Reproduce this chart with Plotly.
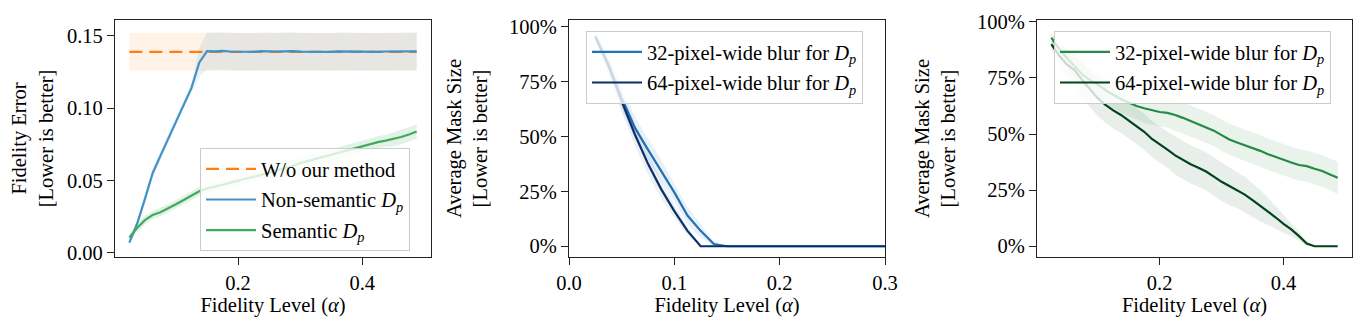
import plotly.graph_objects as go

# Fidelity level grid (shared by all three panels)
alpha = [0.025, 0.0375, 0.05, 0.0625, 0.075, 0.0875, 0.1, 0.1125, 0.125, 0.1375,
         0.15, 0.1625, 0.175, 0.1875, 0.2, 0.2125, 0.225, 0.2375, 0.25, 0.2625,
         0.275, 0.2875, 0.3, 0.3125, 0.325, 0.3375, 0.35, 0.3625, 0.375, 0.3875,
         0.4, 0.4125, 0.425, 0.4375, 0.45, 0.4625, 0.475, 0.4875]

# Panel 1: fidelity error
baseline_err = [0.139] * 38
baseline_sd = [0.013] * 38
nonsem_err = [0.007, 0.020, 0.037, 0.055, 0.067, 0.079, 0.091, 0.103, 0.114, 0.1315,
              0.1395, 0.1393, 0.1396, 0.1392, 0.1390, 0.1392, 0.1390, 0.1394, 0.1391, 0.1392,
              0.1393, 0.1395, 0.1391, 0.1390, 0.1392, 0.1391, 0.1390, 0.1393, 0.1392, 0.1390,
              0.1389, 0.1391, 0.1390, 0.1392, 0.1391, 0.1390, 0.1392, 0.1393]
nonsem_sd = [0.002, 0.002, 0.003, 0.003, 0.003, 0.003, 0.003, 0.003, 0.003, 0.010,
             0.013, 0.013, 0.013, 0.013, 0.013, 0.013, 0.013, 0.013, 0.013, 0.013,
             0.013, 0.013, 0.013, 0.013, 0.013, 0.013, 0.013, 0.013, 0.013, 0.013,
             0.013, 0.013, 0.013, 0.013, 0.013, 0.013, 0.013, 0.013]
sem_err = [0.0105, 0.017, 0.0225, 0.026, 0.028, 0.0305, 0.0335, 0.0365, 0.0395, 0.0425,
           0.0445, 0.0455, 0.047, 0.0485, 0.050, 0.051, 0.0525, 0.0538, 0.0553, 0.057,
           0.0585, 0.060, 0.062, 0.0635, 0.065, 0.0662, 0.0676, 0.069, 0.071, 0.0725,
           0.0737, 0.075, 0.0765, 0.0775, 0.0785, 0.080, 0.0818, 0.0838]
sem_sd = [0.002, 0.003, 0.003, 0.003, 0.003, 0.003, 0.003, 0.003, 0.003, 0.003,
          0.003, 0.003, 0.003, 0.003, 0.003, 0.003, 0.003, 0.003, 0.003, 0.004,
          0.004, 0.004, 0.004, 0.004, 0.004, 0.004, 0.004, 0.004, 0.004, 0.004,
          0.004, 0.004, 0.004, 0.004, 0.005, 0.005, 0.005, 0.005]

# Panel 2: mask size, non-semantic D_p
blue32 = [0.955, 0.83, 0.675, 0.54, 0.44, 0.345, 0.245, 0.14, 0.07, 0.01,
          0, 0, 0, 0, 0, 0, 0, 0, 0, 0, 0, 0, 0, 0, 0, 0, 0, 0, 0, 0,
          0, 0, 0, 0, 0, 0, 0, 0]
blue32_sd = [0.02, 0.04, 0.05, 0.05, 0.05, 0.05, 0.04, 0.04, 0.03, 0.01,
             0, 0, 0, 0, 0, 0, 0, 0, 0, 0, 0, 0, 0, 0, 0, 0, 0, 0, 0, 0,
             0, 0, 0, 0, 0, 0, 0, 0]
blue64 = [0.955, 0.82, 0.66, 0.51, 0.375, 0.26, 0.16, 0.07, 0.0, 0.0,
          0, 0, 0, 0, 0, 0, 0, 0, 0, 0, 0, 0, 0, 0, 0, 0, 0, 0, 0, 0,
          0, 0, 0, 0, 0, 0, 0, 0]
blue64_sd = [0.02, 0.04, 0.05, 0.05, 0.05, 0.04, 0.03, 0.02, 0.0, 0.0,
             0, 0, 0, 0, 0, 0, 0, 0, 0, 0, 0, 0, 0, 0, 0, 0, 0, 0, 0, 0,
             0, 0, 0, 0, 0, 0, 0, 0]

# Panel 3: mask size, semantic D_p
green32 = [0.93, 0.88, 0.84, 0.80, 0.765, 0.74, 0.72, 0.695, 0.675, 0.655,
           0.64, 0.625, 0.615, 0.605, 0.598, 0.594, 0.585, 0.572, 0.558, 0.545,
           0.53, 0.515, 0.495, 0.476, 0.462, 0.45, 0.437, 0.425, 0.41, 0.397,
           0.385, 0.373, 0.362, 0.357, 0.345, 0.335, 0.32, 0.305]
green32_sd = [0.02, 0.03, 0.04, 0.05, 0.05, 0.05, 0.055, 0.055, 0.06, 0.06,
              0.06, 0.06, 0.065, 0.065, 0.065, 0.065, 0.07, 0.07, 0.07, 0.07,
              0.07, 0.07, 0.07, 0.07, 0.07, 0.07, 0.07, 0.07, 0.07, 0.07,
              0.07, 0.07, 0.07, 0.07, 0.07, 0.07, 0.07, 0.072]
green64 = [0.90, 0.85, 0.81, 0.785, 0.74, 0.70, 0.66, 0.63, 0.605, 0.585,
           0.56, 0.535, 0.51, 0.478, 0.452, 0.43, 0.405, 0.385, 0.365, 0.35,
           0.333, 0.31, 0.287, 0.268, 0.25, 0.23, 0.205, 0.18, 0.155, 0.128,
           0.10, 0.075, 0.045, 0.012, 0.0, 0.0, 0.0, 0.0]
green64_sd = [0.02, 0.04, 0.06, 0.07, 0.08, 0.08, 0.08, 0.08, 0.08, 0.08,
              0.08, 0.08, 0.08, 0.08, 0.08, 0.08, 0.085, 0.085, 0.085, 0.085,
              0.085, 0.085, 0.085, 0.085, 0.08, 0.08, 0.075, 0.07, 0.06, 0.05,
              0.04, 0.03, 0.02, 0.01, 0.0, 0.0, 0.0, 0.0]

FONT = "Liberation Serif, Times New Roman, serif"
FS = 20.5
DP = "<i>D</i><sub><i>p</i></sub>"

fig = go.Figure()


def add_band(mean, sd, color, ax, leg):
    lo = [m - s for m, s in zip(mean, sd)]
    hi = [m + s for m, s in zip(mean, sd)]
    fig.add_trace(go.Scatter(x=alpha + alpha[::-1], y=hi + lo[::-1], fill="toself",
                             fillcolor=color, line=dict(width=0), mode="lines",
                             hoverinfo="skip", showlegend=False,
                             xaxis="x" + ax, yaxis="y" + ax, legend=leg))


def add_line(mean, color, name, ax, leg, dash="solid"):
    fig.add_trace(go.Scatter(x=alpha, y=mean, mode="lines", name=name,
                             line=dict(color=color, width=2.2, dash=dash),
                             legendgroup=name, xaxis="x" + ax, yaxis="y" + ax, legend=leg))


# panel 1
add_band(baseline_err, baseline_sd, "rgba(255,127,14,0.10)", "", "legend")
add_line(baseline_err, "#ff7f0e", "W/o our method", "", "legend", dash="13px,7px")
add_band(nonsem_err, nonsem_sd, "rgba(66,146,198,0.12)", "", "legend")
add_line(nonsem_err, "#4292c6", "Non-semantic " + DP, "", "legend")
add_band(sem_err, sem_sd, "rgba(65,171,93,0.15)", "", "legend")
add_line(sem_err, "#41ab5d", "Semantic " + DP, "", "legend")

# panel 2
add_band(blue32, blue32_sd, "rgba(33,113,181,0.10)", "2", "legend2")
add_line(blue32, "#2171b5", "32-pixel-wide blur for " + DP, "2", "legend2")
add_band(blue64, blue64_sd, "rgba(8,48,107,0.08)", "2", "legend2")
add_line(blue64, "#08306b", "64-pixel-wide blur for " + DP, "2", "legend2")

# panel 3
add_band(green32, green32_sd, "rgba(35,139,69,0.10)", "3", "legend3")
add_line(green32, "#238b45", "32-pixel-wide blur for " + DP, "3", "legend3")
add_band(green64, green64_sd, "rgba(0,68,27,0.09)", "3", "legend3")
add_line(green64, "#00441b", "64-pixel-wide blur for " + DP, "3", "legend3")

# page body has an 8px margin, so the figure is drawn from (8, 8)
OFF = 8
W, H = 1367 - OFF, 332 - OFF


def px_x(px):
    return (px - OFF) / W


def px_y(py):
    return 1 - (py - OFF) / H


ydom = [px_y(257), px_y(20)]
axis_common = dict(showline=True, mirror=True, linecolor="#222222", linewidth=1.3,
                   ticks="outside", ticklen=7, tickwidth=1.3, tickcolor="#222222",
                   showgrid=False, zeroline=False, automargin=False,
                   tickfont=dict(size=FS, family=FONT, color="black"),
                   title_font=dict(size=FS, family=FONT, color="black"))
xtitle = dict(text="Fidelity Level (<i>α</i>)", standoff=4)
ytitle_mask = "Average Mask Size<br>[Lower is better]"

legend_common = dict(bgcolor="rgba(255,255,255,0.8)", bordercolor="#cccccc", borderwidth=1,
                     xanchor="left", yanchor="top", tracegroupgap=1, itemwidth=50,
                     font=dict(size=FS, family=FONT, color="black"))

fig.update_layout(
    width=W, height=H,
    margin=dict(l=0, r=0, t=0, b=0),
    plot_bgcolor="white", paper_bgcolor="white",
    font=dict(family=FONT, size=FS, color="black"),
    xaxis=dict(domain=[px_x(115), px_x(431)], range=[0.0019, 0.5106],
               tickvals=[0.2, 0.4], ticktext=["0.2", "0.4"], title=xtitle,
               anchor="y", **axis_common),
    yaxis=dict(domain=ydom, range=[-0.003, 0.161], tickvals=[0, 0.05, 0.1, 0.15],
               ticktext=["0.00", "0.05", "0.10", "0.15"],
               title=dict(text="Fidelity Error<br>[Lower is better]"),
               anchor="x", **axis_common),
    xaxis2=dict(domain=[px_x(569), px_x(885)], range=[0, 0.3],
                tickvals=[0, 0.1, 0.2, 0.3], ticktext=["0.0", "0.1", "0.2", "0.3"],
                title=xtitle, anchor="y2", **axis_common),
    yaxis2=dict(domain=ydom, range=[-0.049, 1.03], tickvals=[0, 0.25, 0.5, 0.75, 1],
                ticktext=["0%", "25%", "50%", "75%", "100%"],
                title=dict(text=ytitle_mask), anchor="x2", **axis_common),
    xaxis3=dict(domain=[px_x(1037), px_x(1352)], range=[0.0019, 0.5106],
                tickvals=[0.2, 0.4], ticktext=["0.2", "0.4"],
                title=xtitle, anchor="y3", **axis_common),
    yaxis3=dict(domain=ydom, range=[-0.048, 1.008], tickvals=[0, 0.25, 0.5, 0.75, 1],
                ticktext=["0%", "25%", "50%", "75%", "100%"],
                title=dict(text=ytitle_mask), anchor="x3", **axis_common),
    legend=dict(x=px_x(200), y=px_y(148), **legend_common),
    legend2=dict(x=px_x(586), y=px_y(31), **legend_common),
    legend3=dict(x=px_x(1054), y=px_y(31), **legend_common),
)

fig.write_html("out.html")
